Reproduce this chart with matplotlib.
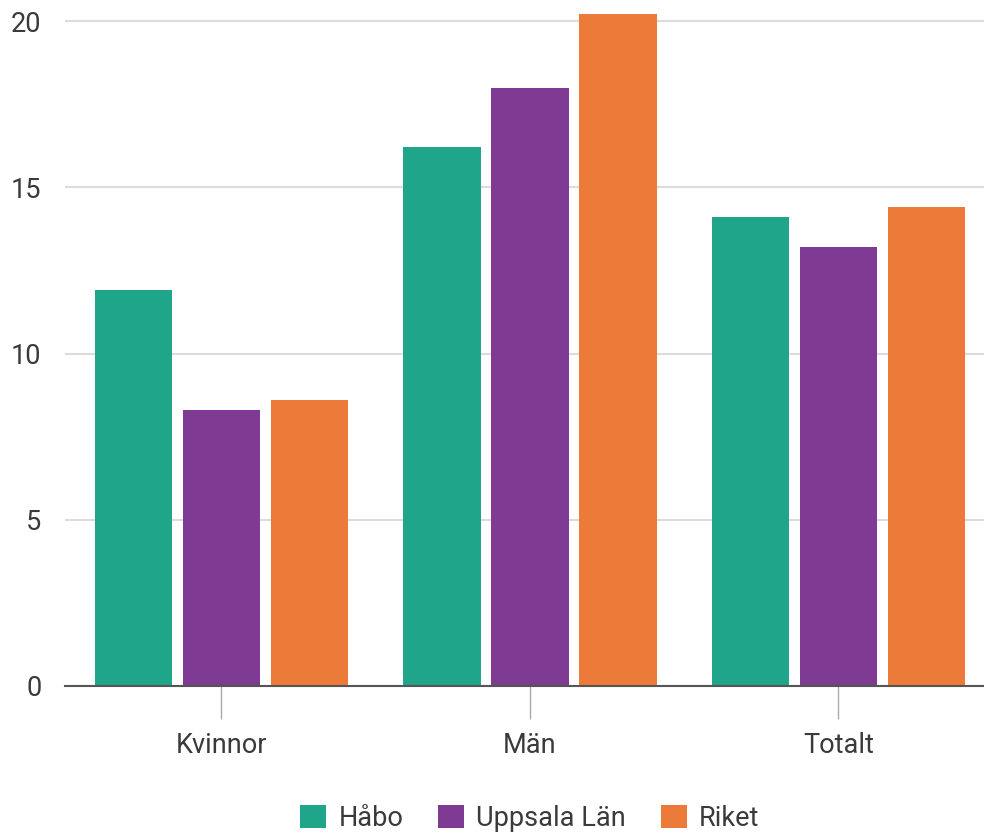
import numpy as np
import matplotlib.pyplot as plt

plt.rcParams['font.family'] = ['Roboto', 'DejaVu Sans']

categories = ['Kvinnor', 'Män', 'Totalt']
series = ['Håbo', 'Uppsala Län', 'Riket']
habo = [11.9, 16.2, 14.1]
uppsala = [8.3, 18.0, 13.2]
riket = [8.6, 20.2, 14.4]
colors = ['#1fa68a', '#7f3a93', '#ec7b3a']
yticks = [0, 5, 10, 15, 20]

ytop = 20.6
px_per_unit = 33.25
fig = plt.figure(figsize=(9.84, 8.35), dpi=100)
ax = fig.add_axes([65 / 984, 1 - 686 / 835, 1 - 65 / 984, ytop * px_per_unit / 835])

x = np.arange(len(categories))
step = 0.2852
width = 0.252
for i, (vals, name) in enumerate(zip([habo, uppsala, riket], series)):
    ax.bar(x + (i - 1) * step, vals, width, color=colors[i], label=name, zorder=3)

ax.set_xlim(-0.507, 2.472)
ax.set_ylim(0, ytop)
ax.set_yticks(yticks)
ax.set_yticklabels([str(t) for t in yticks])
ax.set_xticks(x)
ax.set_xticklabels(categories)
ax.grid(axis='y', color='#dcdcdc', linewidth=1.5, zorder=0)
ax.set_axisbelow(True)
for s in ['top', 'right', 'left']:
    ax.spines[s].set_visible(False)
ax.spines['bottom'].set_color('#555555')
ax.spines['bottom'].set_linewidth(1.5)
ax.spines['bottom'].set_zorder(4)
ax.tick_params(axis='y', length=0, pad=17, labelsize=19.5, labelcolor='#3a3a3a')
ax.tick_params(axis='x', length=24, width=1, color='#aaaaaa', pad=9, labelsize=19.5, labelcolor='#3a3a3a')

ax.legend(loc='center', bbox_to_anchor=((530 - 65) / 919, 1 - (818 - 1) / (ytop * px_per_unit)),
          ncol=3, frameon=False, fontsize=19.5, handlelength=0.95, handleheight=0.95,
          columnspacing=1.3, handletextpad=0.45, labelcolor='#3a3a3a')

fig.savefig('out.png', dpi=100)
